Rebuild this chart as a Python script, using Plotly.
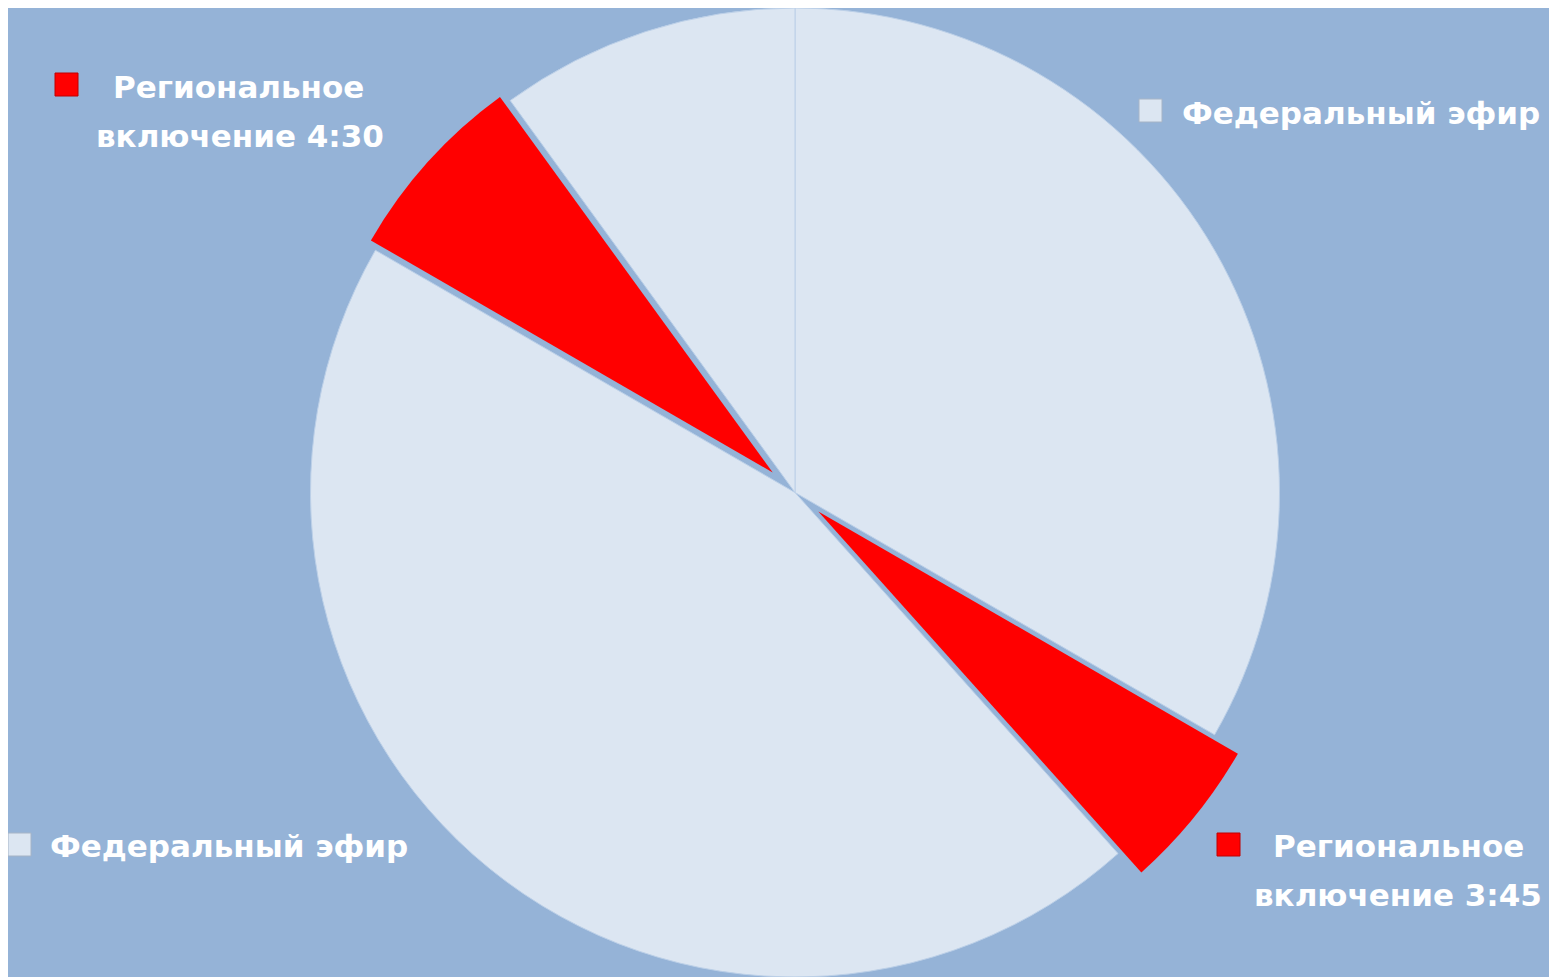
import plotly.graph_objects as go

slice_ids = ["fed_1", "reg_345", "fed_2", "reg_430", "fed_3"]
slice_names = ["Федеральный эфир", "Региональное включение 3:45", "Федеральный эфир",
               "Региональное включение 4:30", "Федеральный эфир"]
slice_values = [20.0, 3.03, 26.97, 4.0, 6.0]
slice_is_regional = [False, True, False, True, False]

# label texts
fed_label = "Федеральный эфир"
reg_line1 = "Региональное"
reg_430_line2 = "включение 4:30"
reg_345_line2 = "включение 3:45"

BG = "#95B3D7"
FED = "#DCE6F2"
REG = "#FF0000"
CLEAR = "rgba(0,0,0,0)"

W, H = 1557, 1000   # figure drawn 8px in from the page corner; bottom is cut by the window
OFF = 8


def px_domain(cx, cy, r):
    """pie domain (paper fractions) for a circle centre/radius in page pixels"""
    cx -= OFF
    cy -= OFF
    return dict(x=[(cx - r) / W, (cx + r) / W], y=[1 - (cy + r) / H, 1 - (cy - r) / H])


fig = go.Figure()

# base pie: federal slices, regional slots left empty (they are exploded)
fig.add_trace(go.Pie(
    labels=slice_ids, values=slice_values, text=slice_names,
    sort=False, direction="clockwise", rotation=0,
    marker=dict(colors=[CLEAR if r else FED for r in slice_is_regional],
                line=dict(color=[CLEAR if r else "#BCD0E8" for r in slice_is_regional], width=1)),
    textinfo="none", hoverinfo="text", showlegend=False,
    domain=px_domain(795, 492.5, 484.5),
))

# exploded regional slices: same pie, centre moved out along each slice's bisector
explode = {"reg_345": (818.3, 511.4, 484.5), "reg_430": (772.7, 472.4, 464.0)}
for sid, (cx, cy, r) in explode.items():
    fig.add_trace(go.Pie(
        labels=slice_ids, values=slice_values, text=slice_names,
        sort=False, direction="clockwise", rotation=0,
        marker=dict(colors=[REG if s == sid else CLEAR for s in slice_ids],
                    line=dict(color=CLEAR, width=0)),
        textinfo="none", hoverinfo="text", showlegend=False,
        domain=px_domain(cx, cy, r),
    ))

font = dict(family="DejaVu Sans", size=31, color="white")

# legend-like labels: (square colour, square left/top px, [(line, x, y, anchor)])
labels = [
    (FED, 1139, 99, [(fed_label, 1180, 113, "left")]),
    (REG, 55, 73, [(reg_line1, 239, 87, "center"), (reg_430_line2, 240, 136, "center")]),
    (REG, 1217, 833, [(reg_line1, 1398, 846, "center"), (reg_345_line2, 1398, 895, "center")]),
    (FED, 8, 833, [(fed_label, 48, 846, "left")]),
]
for col, sx, sy, lines in labels:
    sx -= OFF
    sy -= OFF
    fig.add_shape(type="rect", xref="paper", yref="paper",
                  x0=sx / W, x1=(sx + 23) / W, y0=1 - sy / H, y1=1 - (sy + 23) / H,
                  fillcolor=col,
                  line=dict(color="#A6B4C6" if col == FED else "#C00000", width=1))
    for text, tx, ty, anchor in lines:
        fig.add_annotation(xref="paper", yref="paper", x=(tx - OFF) / W, y=1 - (ty - OFF) / H,
                           text="<b>" + text + "</b>", showarrow=False, font=font,
                           xanchor=anchor, yanchor="middle", align="center")

fig.update_layout(
    width=W, height=H,
    margin=dict(l=0, r=0, t=0, b=0),
    paper_bgcolor=BG,
    plot_bgcolor=BG,
)
fig.write_html("out.html")
